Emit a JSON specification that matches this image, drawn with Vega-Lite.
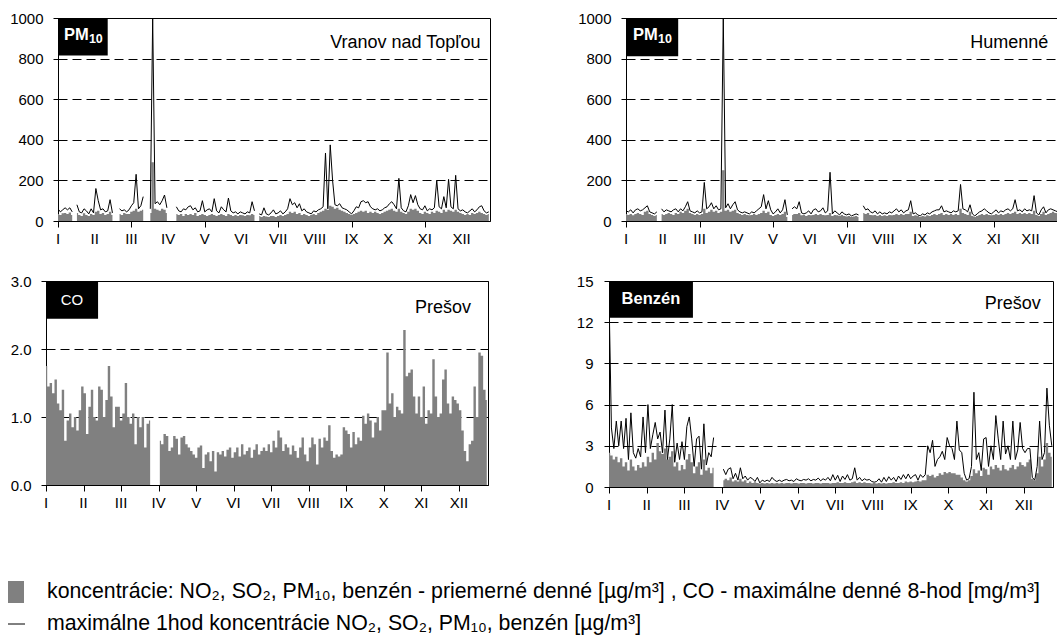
{
"$schema": "https://vega.github.io/schema/vega-lite/v6.json",
"background": "white",
"padding": {"left": 6, "top": 10, "right": 0, "bottom": 0},
"config": {
 "font": "Liberation Sans",
 "view": {"stroke": "black", "strokeWidth": 1},
 "axis": {"labelFont": "Liberation Sans", "labelFontSize": 15, "labelColor": "black", "domainColor": "black", "tickColor": "black", "gridColor": "black", "gridDash": [9, 5], "gridOpacity": 1, "gridWidth": 1, "labelFlush": false},
 "axisX": {"grid": false, "tickSize": 6, "labels": false},
 "axisY": {"tickSize": 5, "labelPadding": 10}
},
"datasets": {
"months": [
{"m":"I","d":0},{"m":"II","d":31},{"m":"III","d":62},{"m":"IV","d":93},{"m":"V","d":124},{"m":"VI","d":155},{"m":"VII","d":186},{"m":"VIII","d":217},{"m":"IX","d":248},{"m":"X","d":279},{"m":"XI","d":310},{"m":"XII","d":341}
],
"vr": [
{"d":0,"a":35,"b":60},{"d":2,"a":30,"b":45},{"d":4,"a":38,"b":55},{"d":6,"a":40,"b":65},{"d":8,"a":35,"b":55},{"d":10,"a":42,"b":65},{"d":12,"a":30,"b":45},{"d":14,"a":null,"b":null},{"d":16,"a":40,"b":80},{"d":18,"a":30,"b":45},{"d":20,"a":25,"b":40},{"d":22,"a":38,"b":60},{"d":24,"a":30,"b":50},{"d":26,"a":25,"b":35},{"d":28,"a":35,"b":60},{"d":30,"a":30,"b":40},
{"d":32,"a":45,"b":160},{"d":34,"a":50,"b":100},{"d":36,"a":35,"b":55},{"d":38,"a":40,"b":60},{"d":40,"a":30,"b":45},{"d":42,"a":35,"b":50},{"d":44,"a":45,"b":105},{"d":46,"a":30,"b":40},{"d":48,"a":null,"b":null},{"d":50,"a":null,"b":null},{"d":52,"a":35,"b":60},{"d":54,"a":30,"b":50},{"d":56,"a":40,"b":55},{"d":58,"a":35,"b":45},
{"d":60,"a":35,"b":55},{"d":62,"a":45,"b":75},{"d":64,"a":50,"b":90},{"d":66,"a":60,"b":230},{"d":68,"a":45,"b":60},{"d":70,"a":50,"b":75},{"d":72,"a":55,"b":120},{"d":74,"a":null,"b":null},{"d":76,"a":null,"b":null},{"d":78,"a":40,"b":60},{"d":80,"a":290,"b":1000},{"d":82,"a":60,"b":85},{"d":84,"a":55,"b":95},{"d":86,"a":50,"b":80},{"d":88,"a":60,"b":100},{"d":90,"a":55,"b":128},{"d":92,"a":40,"b":65},{"d":94,"a":null,"b":null},{"d":96,"a":null,"b":null},{"d":98,"a":null,"b":null},
{"d":100,"a":35,"b":70},{"d":102,"a":30,"b":50},{"d":104,"a":35,"b":45},{"d":106,"a":25,"b":60},{"d":108,"a":35,"b":55},{"d":110,"a":30,"b":70},{"d":112,"a":35,"b":75},{"d":114,"a":30,"b":55},{"d":116,"a":40,"b":65},{"d":118,"a":25,"b":45},
{"d":120,"a":30,"b":50},{"d":122,"a":35,"b":100},{"d":124,"a":30,"b":45},{"d":126,"a":25,"b":55},{"d":128,"a":30,"b":60},{"d":130,"a":35,"b":45},{"d":132,"a":30,"b":110},{"d":134,"a":25,"b":50},{"d":136,"a":30,"b":40},{"d":138,"a":35,"b":70},{"d":140,"a":30,"b":55},{"d":142,"a":25,"b":45},{"d":144,"a":35,"b":113},{"d":146,"a":30,"b":50},{"d":148,"a":25,"b":40},{"d":150,"a":30,"b":45},
{"d":152,"a":25,"b":35},{"d":154,"a":30,"b":45},{"d":156,"a":28,"b":40},{"d":158,"a":25,"b":35},{"d":160,"a":30,"b":45},{"d":162,"a":28,"b":40},{"d":164,"a":35,"b":95},{"d":166,"a":30,"b":50},{"d":168,"a":null,"b":null},{"d":170,"a":25,"b":35},{"d":172,"a":20,"b":30},{"d":174,"a":25,"b":65},{"d":176,"a":22,"b":35},{"d":178,"a":20,"b":30},{"d":180,"a":25,"b":40},
{"d":182,"a":25,"b":55},{"d":184,"a":20,"b":35},{"d":186,"a":25,"b":40},{"d":188,"a":30,"b":50},{"d":190,"a":25,"b":35},{"d":192,"a":30,"b":45},{"d":194,"a":35,"b":60},{"d":196,"a":45,"b":110},{"d":198,"a":40,"b":80},{"d":200,"a":45,"b":90},{"d":202,"a":35,"b":65},{"d":204,"a":40,"b":85},{"d":206,"a":30,"b":50},{"d":208,"a":35,"b":60},{"d":210,"a":30,"b":45},
{"d":212,"a":25,"b":40},{"d":214,"a":30,"b":35},{"d":216,"a":35,"b":50},{"d":218,"a":30,"b":45},{"d":220,"a":40,"b":55},{"d":222,"a":45,"b":60},{"d":224,"a":50,"b":70},{"d":226,"a":60,"b":335},{"d":228,"a":55,"b":60},{"d":230,"a":75,"b":375},{"d":232,"a":70,"b":200},{"d":234,"a":60,"b":80},{"d":236,"a":65,"b":75},{"d":238,"a":55,"b":85},{"d":240,"a":50,"b":65},{"d":242,"a":45,"b":60},
{"d":244,"a":40,"b":55},{"d":246,"a":35,"b":45},{"d":248,"a":30,"b":35},{"d":250,"a":35,"b":50},{"d":252,"a":40,"b":70},{"d":254,"a":45,"b":65},{"d":256,"a":50,"b":95},{"d":258,"a":45,"b":100},{"d":260,"a":50,"b":90},{"d":262,"a":40,"b":95},{"d":264,"a":45,"b":70},{"d":266,"a":40,"b":60},{"d":268,"a":45,"b":55},{"d":270,"a":40,"b":60},{"d":272,"a":35,"b":50},
{"d":274,"a":40,"b":55},{"d":276,"a":45,"b":65},{"d":278,"a":50,"b":70},{"d":280,"a":55,"b":85},{"d":282,"a":60,"b":95},{"d":284,"a":50,"b":80},{"d":286,"a":45,"b":60},{"d":288,"a":60,"b":210},{"d":290,"a":45,"b":65},{"d":292,"a":40,"b":50},{"d":294,"a":35,"b":45},{"d":296,"a":45,"b":75},{"d":298,"a":60,"b":130},{"d":300,"a":55,"b":90},{"d":302,"a":60,"b":125},
{"d":304,"a":50,"b":80},{"d":306,"a":40,"b":60},{"d":308,"a":35,"b":55},{"d":310,"a":45,"b":75},{"d":312,"a":40,"b":50},{"d":314,"a":35,"b":60},{"d":316,"a":45,"b":55},{"d":318,"a":40,"b":65},{"d":320,"a":50,"b":200},{"d":322,"a":45,"b":70},{"d":324,"a":40,"b":60},{"d":326,"a":55,"b":120},{"d":328,"a":45,"b":65},{"d":330,"a":55,"b":205},{"d":332,"a":50,"b":70},
{"d":334,"a":45,"b":60},{"d":336,"a":55,"b":225},{"d":338,"a":45,"b":60},{"d":340,"a":40,"b":50},{"d":342,"a":35,"b":55},{"d":344,"a":30,"b":45},{"d":346,"a":35,"b":40},{"d":348,"a":30,"b":50},{"d":350,"a":40,"b":60},{"d":352,"a":35,"b":45},{"d":354,"a":40,"b":55},{"d":356,"a":45,"b":70},{"d":358,"a":40,"b":75},{"d":360,"a":35,"b":50},{"d":362,"a":30,"b":40},{"d":364,"a":35,"b":45}
],
"hu": [
{"d":0,"a":35,"b":50},{"d":2,"a":30,"b":45},{"d":4,"a":35,"b":55},{"d":6,"a":28,"b":40},{"d":8,"a":35,"b":55},{"d":10,"a":40,"b":60},{"d":12,"a":35,"b":50},{"d":14,"a":30,"b":55},{"d":16,"a":45,"b":65},{"d":18,"a":50,"b":75},{"d":20,"a":35,"b":45},{"d":22,"a":30,"b":40},{"d":24,"a":25,"b":35},{"d":26,"a":30,"b":45},{"d":28,"a":null,"b":null},{"d":30,"a":35,"b":60},
{"d":32,"a":30,"b":45},{"d":34,"a":35,"b":55},{"d":36,"a":40,"b":50},{"d":38,"a":35,"b":45},{"d":40,"a":30,"b":55},{"d":42,"a":40,"b":60},{"d":44,"a":35,"b":45},{"d":46,"a":45,"b":60},{"d":48,"a":40,"b":50},{"d":50,"a":50,"b":70},{"d":52,"a":60,"b":95},{"d":54,"a":40,"b":50},{"d":56,"a":35,"b":45},{"d":58,"a":30,"b":40},
{"d":60,"a":35,"b":50},{"d":62,"a":30,"b":40},{"d":64,"a":35,"b":45},{"d":66,"a":60,"b":190},{"d":68,"a":40,"b":60},{"d":70,"a":45,"b":70},{"d":72,"a":55,"b":90},{"d":74,"a":45,"b":60},{"d":76,"a":50,"b":75},{"d":78,"a":40,"b":55},{"d":80,"a":45,"b":60},{"d":82,"a":250,"b":1000},{"d":84,"a":50,"b":65},{"d":86,"a":55,"b":85},{"d":88,"a":45,"b":60},{"d":90,"a":50,"b":80},
{"d":92,"a":55,"b":95},{"d":94,"a":40,"b":55},{"d":96,"a":35,"b":45},{"d":98,"a":30,"b":40},{"d":100,"a":35,"b":45},{"d":102,"a":30,"b":40},{"d":104,"a":28,"b":35},{"d":106,"a":30,"b":45},{"d":108,"a":35,"b":40},{"d":110,"a":30,"b":50},{"d":112,"a":35,"b":60},{"d":114,"a":40,"b":70},{"d":116,"a":50,"b":130},{"d":118,"a":40,"b":60},{"d":120,"a":45,"b":100},
{"d":122,"a":30,"b":55},{"d":124,"a":25,"b":35},{"d":126,"a":30,"b":45},{"d":128,"a":35,"b":60},{"d":130,"a":30,"b":40},{"d":132,"a":35,"b":55},{"d":134,"a":45,"b":105},{"d":136,"a":20,"b":30},{"d":138,"a":null,"b":null},{"d":140,"a":30,"b":60},{"d":142,"a":35,"b":70},{"d":144,"a":35,"b":60},{"d":146,"a":40,"b":95},{"d":148,"a":28,"b":40},{"d":150,"a":30,"b":35},
{"d":152,"a":25,"b":40},{"d":154,"a":30,"b":50},{"d":156,"a":28,"b":35},{"d":158,"a":30,"b":55},{"d":160,"a":35,"b":60},{"d":162,"a":30,"b":45},{"d":164,"a":35,"b":50},{"d":166,"a":30,"b":65},{"d":168,"a":28,"b":40},{"d":170,"a":30,"b":50},{"d":172,"a":40,"b":240},{"d":174,"a":25,"b":35},{"d":176,"a":30,"b":50},{"d":178,"a":28,"b":40},{"d":180,"a":25,"b":30},
{"d":182,"a":30,"b":45},{"d":184,"a":25,"b":35},{"d":186,"a":22,"b":30},{"d":188,"a":25,"b":35},{"d":190,"a":20,"b":25},{"d":192,"a":22,"b":30},{"d":194,"a":25,"b":35},{"d":196,"a":20,"b":30},{"d":198,"a":null,"b":null},{"d":200,"a":40,"b":75},{"d":202,"a":35,"b":55},{"d":204,"a":40,"b":60},{"d":206,"a":30,"b":45},{"d":208,"a":28,"b":40},{"d":210,"a":30,"b":50},
{"d":212,"a":25,"b":35},{"d":214,"a":30,"b":45},{"d":216,"a":25,"b":35},{"d":218,"a":28,"b":40},{"d":220,"a":25,"b":35},{"d":222,"a":30,"b":45},{"d":224,"a":28,"b":40},{"d":226,"a":30,"b":50},{"d":228,"a":35,"b":60},{"d":230,"a":30,"b":45},{"d":232,"a":35,"b":55},{"d":234,"a":30,"b":40},{"d":236,"a":35,"b":50},{"d":238,"a":35,"b":55},{"d":240,"a":45,"b":100},{"d":242,"a":25,"b":35},
{"d":244,"a":28,"b":40},{"d":246,"a":25,"b":30},{"d":248,"a":20,"b":25},{"d":250,"a":25,"b":35},{"d":252,"a":22,"b":30},{"d":254,"a":28,"b":40},{"d":256,"a":25,"b":35},{"d":258,"a":30,"b":45},{"d":260,"a":35,"b":50},{"d":262,"a":30,"b":55},{"d":264,"a":35,"b":55},{"d":266,"a":40,"b":75},{"d":268,"a":30,"b":45},{"d":270,"a":35,"b":50},{"d":272,"a":30,"b":45},
{"d":274,"a":35,"b":40},{"d":276,"a":30,"b":50},{"d":278,"a":35,"b":45},{"d":280,"a":30,"b":50},{"d":282,"a":60,"b":180},{"d":284,"a":40,"b":60},{"d":286,"a":35,"b":55},{"d":288,"a":30,"b":45},{"d":290,"a":45,"b":80},{"d":292,"a":25,"b":35},{"d":294,"a":20,"b":25},{"d":296,"a":25,"b":35},{"d":298,"a":30,"b":45},{"d":300,"a":35,"b":50},{"d":302,"a":30,"b":60},
{"d":304,"a":35,"b":50},{"d":306,"a":30,"b":40},{"d":308,"a":28,"b":35},{"d":310,"a":30,"b":45},{"d":312,"a":35,"b":55},{"d":314,"a":30,"b":40},{"d":316,"a":35,"b":50},{"d":318,"a":30,"b":45},{"d":320,"a":35,"b":55},{"d":322,"a":40,"b":60},{"d":324,"a":35,"b":50},{"d":326,"a":40,"b":60},{"d":328,"a":45,"b":105},{"d":330,"a":35,"b":50},{"d":332,"a":40,"b":55},
{"d":334,"a":35,"b":45},{"d":336,"a":40,"b":60},{"d":338,"a":35,"b":50},{"d":340,"a":40,"b":55},{"d":342,"a":35,"b":50},{"d":344,"a":50,"b":125},{"d":346,"a":30,"b":40},{"d":348,"a":25,"b":30},{"d":350,"a":35,"b":55},{"d":352,"a":45,"b":70},{"d":354,"a":30,"b":40},{"d":356,"a":35,"b":55},{"d":358,"a":40,"b":60},{"d":360,"a":45,"b":55},{"d":362,"a":40,"b":50},{"d":364,"a":38,"b":45}
],
"co": [
{"d":0,"a":1.75},{"d":2,"a":1.45},{"d":4,"a":1.5},{"d":6,"a":1.35},{"d":8,"a":1.55},{"d":10,"a":1.2},{"d":12,"a":1.1},{"d":14,"a":1.4},{"d":16,"a":0.65},{"d":18,"a":0.95},{"d":20,"a":1.05},{"d":22,"a":0.85},{"d":24,"a":1.0},{"d":26,"a":0.8},{"d":28,"a":1.1},{"d":30,"a":1.45},
{"d":32,"a":1.35},{"d":34,"a":0.75},{"d":36,"a":1.15},{"d":38,"a":1.4},{"d":40,"a":1.0},{"d":42,"a":0.95},{"d":44,"a":1.45},{"d":46,"a":1.4},{"d":48,"a":1.0},{"d":50,"a":1.25},{"d":52,"a":1.75},{"d":54,"a":1.3},{"d":56,"a":0.85},{"d":58,"a":1.15},
{"d":60,"a":1.15},{"d":62,"a":0.95},{"d":64,"a":1.05},{"d":66,"a":1.5},{"d":68,"a":1.0},{"d":70,"a":0.9},{"d":72,"a":1.05},{"d":74,"a":0.6},{"d":76,"a":1.0},{"d":78,"a":0.85},{"d":80,"a":1.0},{"d":82,"a":0.55},{"d":84,"a":0.9},{"d":86,"a":0.95},{"d":88,"a":null},{"d":90,"a":null},{"d":92,"a":null},
{"d":94,"a":0.65},{"d":96,"a":0.6},{"d":98,"a":0.75},{"d":100,"a":0.72},{"d":102,"a":0.5},{"d":104,"a":0.55},{"d":106,"a":0.72},{"d":108,"a":0.68},{"d":110,"a":0.45},{"d":112,"a":0.7},{"d":114,"a":0.72},{"d":116,"a":0.6},{"d":118,"a":0.55},
{"d":120,"a":0.5},{"d":122,"a":0.45},{"d":124,"a":0.4},{"d":126,"a":0.55},{"d":128,"a":0.58},{"d":130,"a":0.25},{"d":132,"a":0.45},{"d":134,"a":0.48},{"d":136,"a":0.35},{"d":138,"a":0.5},{"d":140,"a":0.2},{"d":142,"a":0.48},{"d":144,"a":0.45},{"d":146,"a":0.5},{"d":148,"a":0.42},{"d":150,"a":0.52},
{"d":152,"a":0.55},{"d":154,"a":0.4},{"d":156,"a":0.48},{"d":158,"a":0.55},{"d":160,"a":0.42},{"d":162,"a":0.6},{"d":164,"a":0.45},{"d":166,"a":0.5},{"d":168,"a":0.55},{"d":170,"a":0.4},{"d":172,"a":0.52},{"d":174,"a":0.6},{"d":176,"a":0.45},{"d":178,"a":0.5},{"d":180,"a":0.55},
{"d":182,"a":0.5},{"d":184,"a":0.6},{"d":186,"a":0.48},{"d":188,"a":0.65},{"d":190,"a":0.55},{"d":192,"a":0.8},{"d":194,"a":0.7},{"d":196,"a":0.5},{"d":198,"a":0.6},{"d":200,"a":0.55},{"d":202,"a":0.45},{"d":204,"a":0.58},{"d":206,"a":0.5},{"d":208,"a":0.4},{"d":210,"a":0.55},
{"d":212,"a":0.7},{"d":214,"a":0.45},{"d":216,"a":0.35},{"d":218,"a":0.55},{"d":220,"a":0.7},{"d":222,"a":0.6},{"d":224,"a":0.3},{"d":226,"a":0.68},{"d":228,"a":0.55},{"d":230,"a":0.7},{"d":232,"a":0.65},{"d":234,"a":0.88},{"d":236,"a":0.5},{"d":238,"a":0.4},{"d":240,"a":0.45},{"d":242,"a":0.42},
{"d":244,"a":0.45},{"d":246,"a":0.85},{"d":248,"a":0.8},{"d":250,"a":0.75},{"d":252,"a":0.55},{"d":254,"a":0.78},{"d":256,"a":0.6},{"d":258,"a":0.7},{"d":260,"a":0.65},{"d":262,"a":1.02},{"d":264,"a":0.9},{"d":266,"a":1.05},{"d":268,"a":0.95},{"d":270,"a":0.7},{"d":272,"a":0.92},
{"d":274,"a":1.0},{"d":276,"a":0.8},{"d":278,"a":1.1},{"d":280,"a":1.1},{"d":282,"a":1.95},{"d":284,"a":1.2},{"d":286,"a":1.35},{"d":288,"a":1.0},{"d":290,"a":1.15},{"d":292,"a":1.1},{"d":294,"a":1.05},{"d":296,"a":2.28},{"d":298,"a":1.6},{"d":300,"a":1.65},{"d":302,"a":1.7},
{"d":304,"a":1.3},{"d":306,"a":1.05},{"d":308,"a":1.3},{"d":310,"a":1.0},{"d":312,"a":1.45},{"d":314,"a":0.9},{"d":316,"a":1.1},{"d":318,"a":1.05},{"d":320,"a":1.85},{"d":322,"a":1.3},{"d":324,"a":1.0},{"d":326,"a":1.05},{"d":328,"a":1.55},{"d":330,"a":1.7},{"d":332,"a":1.2},
{"d":334,"a":1.05},{"d":336,"a":1.3},{"d":338,"a":1.25},{"d":340,"a":1.2},{"d":342,"a":1.1},{"d":344,"a":0.8},{"d":346,"a":0.5},{"d":348,"a":0.35},{"d":350,"a":0.6},{"d":352,"a":0.65},{"d":354,"a":1.45},{"d":356,"a":1.0},{"d":358,"a":1.95},{"d":360,"a":1.9},{"d":362,"a":1.4},{"d":364,"a":1.25}
],
"bz": [
{"d":0,"a":2.5,"b":14},{"d":2,"a":2.3,"b":4.3},{"d":4,"a":2.0,"b":2.8},{"d":6,"a":2.2,"b":4.8},{"d":8,"a":1.8,"b":3.0},{"d":10,"a":2.1,"b":4.8},{"d":12,"a":1.5,"b":2.8},{"d":14,"a":1.8,"b":5.0},{"d":16,"a":1.2,"b":2.0},{"d":18,"a":2.0,"b":5.4},{"d":20,"a":1.5,"b":2.5},{"d":22,"a":1.2,"b":2.1},{"d":24,"a":1.6,"b":2.8},{"d":26,"a":1.4,"b":2.2},{"d":28,"a":1.8,"b":5.1},{"d":30,"a":1.5,"b":2.5},
{"d":32,"a":2.2,"b":6.0},{"d":34,"a":1.8,"b":2.8},{"d":36,"a":2.5,"b":3.8},{"d":38,"a":2.0,"b":4.7},{"d":40,"a":3.2,"b":3.5},{"d":42,"a":2.6,"b":4.0},{"d":44,"a":2.4,"b":2.5},{"d":46,"a":2.8,"b":5.6},{"d":48,"a":2.0,"b":2.0},{"d":50,"a":2.2,"b":3.5},{"d":52,"a":2.6,"b":6.0},{"d":54,"a":1.5,"b":1.8},{"d":56,"a":1.8,"b":3.2},{"d":58,"a":1.2,"b":2.0},
{"d":60,"a":1.6,"b":3.3},{"d":62,"a":1.3,"b":2.0},{"d":64,"a":2.0,"b":4.4},{"d":66,"a":2.4,"b":5.1},{"d":68,"a":1.8,"b":3.5},{"d":70,"a":1.0,"b":1.5},{"d":72,"a":1.5,"b":3.5},{"d":74,"a":1.8,"b":3.7},{"d":76,"a":0.9,"b":1.3},{"d":78,"a":2.0,"b":4.6},{"d":80,"a":1.2,"b":1.6},{"d":82,"a":1.4,"b":2.5},{"d":84,"a":1.0,"b":2.2},{"d":86,"a":1.4,"b":3.6},{"d":88,"a":null,"b":null},{"d":90,"a":null,"b":null},{"d":92,"a":null,"b":null},
{"d":94,"a":0.5,"b":1.3},{"d":96,"a":0.6,"b":0.9},{"d":98,"a":0.5,"b":1.3},{"d":100,"a":0.7,"b":1.4},{"d":102,"a":0.4,"b":0.6},{"d":104,"a":0.5,"b":1.0},{"d":106,"a":0.4,"b":0.5},{"d":108,"a":0.6,"b":1.4},{"d":110,"a":0.4,"b":0.6},{"d":112,"a":0.5,"b":0.8},{"d":114,"a":0.3,"b":0.5},{"d":116,"a":0.4,"b":0.7},{"d":118,"a":0.3,"b":0.6},
{"d":120,"a":0.35,"b":0.4},{"d":122,"a":0.3,"b":0.7},{"d":124,"a":0.25,"b":0.3},{"d":126,"a":0.3,"b":0.5},{"d":128,"a":0.25,"b":0.4},{"d":130,"a":0.3,"b":0.5},{"d":132,"a":0.25,"b":0.4},{"d":134,"a":0.3,"b":0.7},{"d":136,"a":0.25,"b":0.5},{"d":138,"a":0.3,"b":0.4},{"d":140,"a":0.25,"b":0.5},{"d":142,"a":0.3,"b":0.4},{"d":144,"a":0.25,"b":0.5},{"d":146,"a":0.3,"b":0.55},{"d":148,"a":0.3,"b":0.45},{"d":150,"a":0.25,"b":0.5},
{"d":152,"a":0.3,"b":0.4},{"d":154,"a":0.3,"b":0.6},{"d":156,"a":0.25,"b":0.5},{"d":158,"a":0.3,"b":0.45},{"d":160,"a":0.3,"b":0.55},{"d":162,"a":0.25,"b":0.5},{"d":164,"a":0.3,"b":0.6},{"d":166,"a":0.3,"b":0.45},{"d":168,"a":0.25,"b":0.55},{"d":170,"a":0.3,"b":0.5},{"d":172,"a":0.3,"b":0.65},{"d":174,"a":0.25,"b":0.45},{"d":176,"a":0.3,"b":0.6},{"d":178,"a":0.3,"b":0.5},{"d":180,"a":0.3,"b":0.7},
{"d":182,"a":0.25,"b":0.45},{"d":184,"a":0.3,"b":0.9},{"d":186,"a":0.3,"b":0.5},{"d":188,"a":0.35,"b":0.85},{"d":190,"a":0.3,"b":0.4},{"d":192,"a":0.3,"b":0.8},{"d":194,"a":0.35,"b":0.55},{"d":196,"a":0.3,"b":0.9},{"d":198,"a":0.3,"b":0.5},{"d":200,"a":0.35,"b":0.6},{"d":202,"a":0.4,"b":1.4},{"d":204,"a":0.3,"b":0.5},{"d":206,"a":0.35,"b":0.7},{"d":208,"a":0.3,"b":0.45},{"d":210,"a":0.35,"b":0.6},
{"d":212,"a":0.3,"b":0.5},{"d":214,"a":0.3,"b":0.55},{"d":216,"a":0.25,"b":0.4},{"d":218,"a":0.3,"b":0.35},{"d":220,"a":0.25,"b":0.4},{"d":222,"a":0.3,"b":0.6},{"d":224,"a":0.25,"b":0.35},{"d":226,"a":0.3,"b":0.7},{"d":228,"a":0.25,"b":0.4},{"d":230,"a":0.3,"b":0.75},{"d":232,"a":0.3,"b":0.5},{"d":234,"a":0.35,"b":0.7},{"d":236,"a":0.3,"b":0.4},{"d":238,"a":0.3,"b":0.8},{"d":240,"a":0.35,"b":0.55},{"d":242,"a":0.3,"b":0.9},
{"d":244,"a":0.4,"b":0.6},{"d":246,"a":0.35,"b":0.95},{"d":248,"a":0.4,"b":0.6},{"d":250,"a":0.35,"b":0.8},{"d":252,"a":0.4,"b":0.9},{"d":254,"a":0.45,"b":0.5},{"d":256,"a":0.4,"b":0.9},{"d":258,"a":0.5,"b":0.7},{"d":260,"a":0.5,"b":0.9},{"d":262,"a":0.9,"b":3.0},{"d":264,"a":0.8,"b":2.5},{"d":266,"a":0.9,"b":3.4},{"d":268,"a":0.7,"b":1.5},{"d":270,"a":0.8,"b":2.0},{"d":272,"a":1.0,"b":2.2},
{"d":274,"a":0.9,"b":2.6},{"d":276,"a":1.1,"b":2.0},{"d":278,"a":1.0,"b":3.6},{"d":280,"a":1.1,"b":3.0},{"d":282,"a":1.0,"b":2.8},{"d":284,"a":1.0,"b":2.0},{"d":286,"a":0.9,"b":4.8},{"d":288,"a":0.9,"b":2.7},{"d":290,"a":0.7,"b":2.5},{"d":292,"a":0.5,"b":1.0},{"d":294,"a":0.4,"b":0.5},{"d":296,"a":0.5,"b":0.6},{"d":298,"a":0.8,"b":1.5},{"d":300,"a":1.3,"b":6.9},{"d":302,"a":1.0,"b":2.0},
{"d":304,"a":1.2,"b":2.5},{"d":306,"a":0.8,"b":1.2},{"d":308,"a":1.4,"b":3.5},{"d":310,"a":1.3,"b":3.6},{"d":312,"a":0.9,"b":1.5},{"d":314,"a":1.5,"b":3.0},{"d":316,"a":1.3,"b":2.0},{"d":318,"a":1.6,"b":5.2},{"d":320,"a":1.4,"b":3.5},{"d":322,"a":1.2,"b":2.0},{"d":324,"a":1.6,"b":4.8},{"d":326,"a":1.3,"b":2.4},{"d":328,"a":1.2,"b":3.0},{"d":330,"a":1.4,"b":2.0},{"d":332,"a":1.6,"b":4.8},
{"d":334,"a":1.3,"b":2.0},{"d":336,"a":1.5,"b":2.7},{"d":338,"a":1.8,"b":4.7},{"d":340,"a":1.6,"b":2.8},{"d":342,"a":1.5,"b":2.5},{"d":344,"a":1.8,"b":2.8},{"d":346,"a":2.0,"b":2.8},{"d":348,"a":0.6,"b":0.7},{"d":350,"a":0.5,"b":0.5},{"d":352,"a":1.0,"b":1.5},{"d":354,"a":2.2,"b":4.8},{"d":356,"a":1.5,"b":2.0},{"d":358,"a":2.0,"b":2.5},{"d":360,"a":3.2,"b":7.2},{"d":362,"a":2.5,"b":4.5},{"d":364,"a":2.2,"b":3.0}
]
},
"spacing": 25,
"vconcat": [
{
"spacing": 0,
"hconcat": [
{"width": 1, "height": 1, "view": {"stroke": null}, "data": {"values": [{}]}, "mark": {"type": "text", "text": ""}, "encoding": {}},
{
"spacing": 86,
"hconcat": [
{
"width": 432, "height": 203,
"data": {"name": "vr"},
"layer": [
{"mark": {"type": "area", "interpolate": "step", "color": "#808080", "invalid": "break-paths-show-domains"},
 "encoding": {
  "x": {"field": "d", "type": "quantitative", "scale": {"domain": [0, 365], "nice": false}, "axis": {"title": null, "values": [0,31,62,93,124,155,186,217,248,279,310,341]}},
  "y": {"field": "a", "type": "quantitative", "scale": {"domain": [0, 1000], "nice": false}, "axis": {"title": null, "values": [0,200,400,600,800,1000], "format": "d"}}}},
{"mark": {"type": "line", "color": "black", "strokeWidth": 1, "clip": true, "invalid": "break-paths-show-domains"},
 "encoding": {"x": {"field": "d", "type": "quantitative"}, "y": {"field": "b", "type": "quantitative"}}},
{"data": {"name": "months"}, "mark": {"type": "text", "fontSize": 15, "align": "center", "baseline": "middle", "dy": 18, "color": "black"},
 "encoding": {"x": {"field": "d", "type": "quantitative"}, "y": {"datum": 0}, "text": {"field": "m"}}},
{"data": {"values": [{}]}, "mark": {"type": "rect", "color": "black"},
 "encoding": {"x": {"datum": 0}, "x2": {"datum": 42}, "y": {"datum": 1000}, "y2": {"datum": 815}}},
{"data": {"values": [{}]}, "mark": {"type": "text", "text": "PM", "color": "white", "fontWeight": "bold", "fontSize": 16.5, "align": "left", "baseline": "middle"},
 "encoding": {"x": {"datum": 5}, "y": {"datum": 918}}},
{"data": {"values": [{}]}, "mark": {"type": "text", "text": "10", "color": "white", "fontWeight": "bold", "fontSize": 12.5, "align": "left", "baseline": "middle", "dx": 25, "dy": 4},
 "encoding": {"x": {"datum": 5}, "y": {"datum": 918}}},
{"data": {"values": [{}]}, "mark": {"type": "text", "text": "Vranov nad Topľou", "fontSize": 18, "align": "right", "baseline": "middle"},
 "encoding": {"x": {"datum": 357}, "y": {"datum": 878}}}
]
},
{
"width": 433, "height": 203,
"data": {"name": "hu"},
"layer": [
{"mark": {"type": "area", "interpolate": "step", "color": "#808080", "invalid": "break-paths-show-domains"},
 "encoding": {
  "x": {"field": "d", "type": "quantitative", "scale": {"domain": [0, 365], "nice": false}, "axis": {"title": null, "values": [0,31,62,93,124,155,186,217,248,279,310,341]}},
  "y": {"field": "a", "type": "quantitative", "scale": {"domain": [0, 1000], "nice": false}, "axis": {"title": null, "values": [0,200,400,600,800,1000], "format": "d"}}}},
{"mark": {"type": "line", "color": "black", "strokeWidth": 1, "clip": true, "invalid": "break-paths-show-domains"},
 "encoding": {"x": {"field": "d", "type": "quantitative"}, "y": {"field": "b", "type": "quantitative"}}},
{"data": {"name": "months"}, "mark": {"type": "text", "fontSize": 15, "align": "center", "baseline": "middle", "dy": 18, "color": "black"},
 "encoding": {"x": {"field": "d", "type": "quantitative"}, "y": {"datum": 0}, "text": {"field": "m"}}},
{"data": {"values": [{}]}, "mark": {"type": "rect", "color": "black"},
 "encoding": {"x": {"datum": 0}, "x2": {"datum": 44}, "y": {"datum": 1000}, "y2": {"datum": 812}}},
{"data": {"values": [{}]}, "mark": {"type": "text", "text": "PM", "color": "white", "fontWeight": "bold", "fontSize": 16.5, "align": "left", "baseline": "middle"},
 "encoding": {"x": {"datum": 6}, "y": {"datum": 918}}},
{"data": {"values": [{}]}, "mark": {"type": "text", "text": "10", "color": "white", "fontWeight": "bold", "fontSize": 12.5, "align": "left", "baseline": "middle", "dx": 25, "dy": 4},
 "encoding": {"x": {"datum": 6}, "y": {"datum": 918}}},
{"data": {"values": [{}]}, "mark": {"type": "text", "text": "Humenné", "fontSize": 18, "align": "right", "baseline": "middle"},
 "encoding": {"x": {"datum": 356}, "y": {"datum": 878}}}
]
}
]
}
]
},
{
"spacing": 0,
"hconcat": [
{"width": 1, "height": 1, "view": {"stroke": null}, "data": {"values": [{}]}, "mark": {"type": "text", "text": ""}, "encoding": {}},
{
"spacing": 86,
"hconcat": [
{
"width": 442, "height": 204,
"data": {"name": "co"},
"layer": [
{"mark": {"type": "area", "interpolate": "step", "color": "#808080", "invalid": "break-paths-show-domains"},
 "encoding": {
  "x": {"field": "d", "type": "quantitative", "scale": {"domain": [0, 365], "nice": false}, "axis": {"title": null, "values": [0,31,62,93,124,155,186,217,248,279,310,341]}},
  "y": {"field": "a", "type": "quantitative", "scale": {"domain": [0, 3], "nice": false}, "axis": {"title": null, "values": [0,1,2,3], "format": ".1f"}}}},
{"data": {"name": "months"}, "mark": {"type": "text", "fontSize": 15, "align": "center", "baseline": "middle", "dy": 18, "color": "black"},
 "encoding": {"x": {"field": "d", "type": "quantitative"}, "y": {"datum": 0}, "text": {"field": "m"}}},
{"data": {"values": [{}]}, "mark": {"type": "rect", "color": "black"},
 "encoding": {"x": {"datum": 0}, "x2": {"datum": 43}, "y": {"datum": 3}, "y2": {"datum": 2.445}}},
{"data": {"values": [{}]}, "mark": {"type": "text", "text": "CO", "color": "white", "fontSize": 15, "align": "center", "baseline": "middle"},
 "encoding": {"x": {"datum": 21.5}, "y": {"datum": 2.72}}},
{"data": {"values": [{}]}, "mark": {"type": "text", "text": "Prešov", "fontSize": 18, "align": "right", "baseline": "middle"},
 "encoding": {"x": {"datum": 351}, "y": {"datum": 2.6}}}
]
},
{
"width": 444, "height": 206,
"data": {"name": "bz"},
"layer": [
{"mark": {"type": "area", "interpolate": "step", "color": "#808080", "invalid": "break-paths-show-domains"},
 "encoding": {
  "x": {"field": "d", "type": "quantitative", "scale": {"domain": [0, 365], "nice": false}, "axis": {"title": null, "values": [0,31,62,93,124,155,186,217,248,279,310,341]}},
  "y": {"field": "a", "type": "quantitative", "scale": {"domain": [0, 15], "nice": false}, "axis": {"title": null, "values": [0,3,6,9,12,15], "format": "d", "labelPadding": 11}}}},
{"mark": {"type": "line", "color": "black", "strokeWidth": 1, "clip": true, "invalid": "break-paths-show-domains"},
 "encoding": {"x": {"field": "d", "type": "quantitative"}, "y": {"field": "b", "type": "quantitative"}}},
{"data": {"name": "months"}, "mark": {"type": "text", "fontSize": 15, "align": "center", "baseline": "middle", "dy": 18, "color": "black"},
 "encoding": {"x": {"field": "d", "type": "quantitative"}, "y": {"datum": 0}, "text": {"field": "m"}}},
{"data": {"values": [{}]}, "mark": {"type": "rect", "color": "black"},
 "encoding": {"x": {"datum": 0}, "x2": {"datum": 69}, "y": {"datum": 15}, "y2": {"datum": 12.33}}},
{"data": {"values": [{}]}, "mark": {"type": "text", "text": "Benzén", "color": "white", "fontWeight": "bold", "fontSize": 16.5, "align": "center", "baseline": "middle"},
 "encoding": {"x": {"datum": 34.5}, "y": {"datum": 13.7}}},
{"data": {"values": [{}]}, "mark": {"type": "text", "text": "Prešov", "fontSize": 18, "align": "right", "baseline": "middle"},
 "encoding": {"x": {"datum": 355}, "y": {"datum": 13.35}}}
]
}
]
}
]
},
{
"width": 1040, "height": 85,
"view": {"stroke": null},
"data": {"values": [
 {"k": "a", "t": "koncentrácie:  NO₂, SO₂, PM₁₀, benzén - priemerné denné [µg/m³] , CO - maximálne denné 8-hod [mg/m³]"},
 {"k": "b", "t": "maximálne 1hod koncentrácie NO₂, SO₂, PM₁₀, benzén [µg/m³]"}
]},
"layer": [
{"mark": {"type": "text", "align": "left", "baseline": "middle", "fontSize": 21.3, "color": "black"},
 "encoding": {"x": {"datum": 39, "scale": {"domain": [0, 1040], "nice": false}, "axis": null}, "y": {"field": "k", "type": "ordinal", "scale": {"type": "point", "padding": 0.828, "align": 1}, "axis": null}, "text": {"field": "t"}}},
{"transform": [{"filter": "datum.k == 'a'"}],
 "mark": {"type": "point", "shape": "M-0.727,-1H0.727V1H-0.727Z", "filled": true, "color": "#808080", "size": 484, "opacity": 1},
 "encoding": {"x": {"datum": 8}, "y": {"field": "k", "type": "ordinal", "axis": null}}},
{"transform": [{"filter": "datum.k == 'b'"}],
 "mark": {"type": "point", "shape": "stroke", "color": "black", "strokeWidth": 1, "size": 289, "opacity": 1},
 "encoding": {"x": {"datum": 8.5}, "y": {"field": "k", "type": "ordinal", "axis": null}}}
]
}
]
}
